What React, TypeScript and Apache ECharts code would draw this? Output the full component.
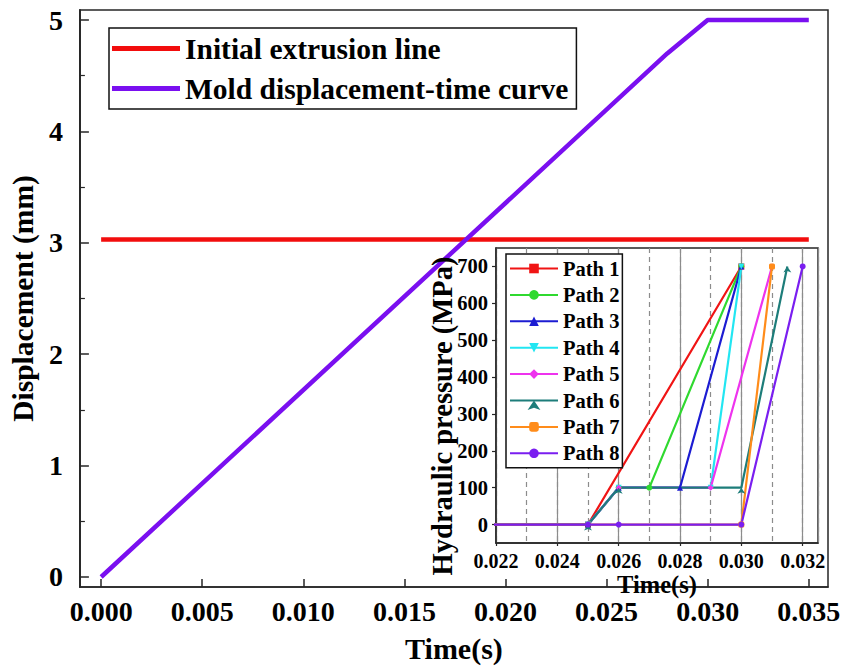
import { useEffect, useRef } from "react";
import * as echarts from "echarts";

// Main panel: displacement vs time
const extrusionTime = [0, 0.035];
const extrusionDisp = [3.03, 3.03];
const moldTime = [0, 0.028, 0.03, 0.035];
const moldDisp = [0, 4.7, 5.0, 5.0];

const mainXTicks = [0, 0.005, 0.01, 0.015, 0.02, 0.025, 0.03, 0.035];
const mainYTicks = [0, 1, 2, 3, 4, 5];
const mainYMinorTicks = [0.5, 1.5, 2.5, 3.5, 4.5];

// Inset: hydraulic pressure loading paths, [time (s), pressure (MPa)]
const path1 = [[0, 0], [0.025, 0], [0.03, 700]];
const path2 = [[0, 0], [0.025, 0], [0.026, 100], [0.027, 100], [0.03, 700]];
const path3 = [[0, 0], [0.025, 0], [0.026, 100], [0.028, 100], [0.03, 700]];
const path4 = [[0, 0], [0.025, 0], [0.026, 100], [0.029, 100], [0.03, 700]];
const path5 = [[0, 0], [0.025, 0], [0.026, 100], [0.029, 100], [0.031, 700]];
const path6 = [[0, 0], [0.025, 0], [0.026, 100], [0.03, 100], [0.0315, 700]];
const path7 = [[0, 0], [0.03, 0], [0.031, 700]];
const path8 = [[0, 0], [0.025, 0], [0.026, 0], [0.03, 0], [0.032, 700]];

const pathNames = ["Path 1", "Path 2", "Path 3", "Path 4", "Path 5", "Path 6", "Path 7", "Path 8"];
const pathData = [path1, path2, path3, path4, path5, path6, path7, path8];
const pathColors = ["#f01414", "#2fd92f", "#1c1cd2", "#22e6f2", "#ee33ee", "#1d7d7a", "#ff8c1a", "#7a1ef0"];
const pathSymbols = ["rect", "circle", "triangle", "triangle", "diamond", "arrow", "roundRect", "circle"];
const pathSymbolRotate = [0, 0, 0, 180, 0, 0, 0, 0];

const insetXTicks = [0.022, 0.024, 0.026, 0.028, 0.03, 0.032];
const insetYTicks = [0, 100, 200, 300, 400, 500, 600, 700];
const insetXMin = 0.022;
const insetXMax = 0.0325;
const insetSolidStep = 0.002;
const insetDashedStep = 0.001;

const FONT = "Liberation Serif";
const AXIS_COLOR = "#262626";
const GRID_COLOR = "#8c8c8c";

export default function App() {
  const ref = useRef<HTMLDivElement>(null);

  useEffect(() => {
    document.body.style.margin = "0";
    const chart = echarts.init(ref.current!, undefined, { renderer: "svg" });

    const pathSeries = pathNames.map((name, i) => ({
      name,
      type: "line",
      xAxisIndex: 1,
      yAxisIndex: 2,
      data: pathData[i],
      symbol: pathSymbols[i],
      symbolRotate: pathSymbolRotate[i],
      symbolSize: 6,
      showSymbol: true,
      color: pathColors[i],
      lineStyle: { width: 2.2, color: pathColors[i] },
      itemStyle: { color: pathColors[i] },
      z: 3,
    }));

    // hidden axes of the inset that only carry its vertical reference lines
    const insetGridAxis = (step: number, type: "solid" | "dashed") => ({
      type: "value",
      gridIndex: 1,
      position: "top",
      min: insetXMin,
      max: insetXMax,
      interval: step,
      axisLine: { show: false, onZero: false },
      axisTick: { show: false },
      axisLabel: { show: false },
      splitLine: {
        show: true,
        lineStyle: { color: GRID_COLOR, width: 1.2, type: type === "dashed" ? [5, 4] : "solid" },
      },
    });

    chart.setOption({
      animation: false,
      backgroundColor: "#ffffff",
      textStyle: { fontFamily: FONT, fontWeight: "bold", color: "#000" },
      grid: [
        {
          left: 74,
          top: 10,
          width: 754,
          height: 581,
          show: true,
          borderColor: AXIS_COLOR,
          borderWidth: 1.5,
        },
        {
          left: 496,
          top: 248,
          width: 322,
          height: 295,
          show: true,
          borderColor: AXIS_COLOR,
          borderWidth: 1.5,
        },
      ],
      legend: [
        {
          data: [
            { name: "Initial extrusion line", icon: "rect" },
            { name: "Mold displacement-time curve", icon: "rect" },
          ],
          orient: "vertical",
          left: 109,
          top: 28,
          itemWidth: 68,
          itemHeight: 5,
          itemGap: 9,
          padding: [5, 8, 5, 3],
          borderColor: "#111",
          borderWidth: 1.5,
          backgroundColor: "#fff",
          textStyle: { fontFamily: FONT, fontWeight: "bold", fontSize: 29.5, color: "#000", lineHeight: 31 },
        },
        {
          data: pathNames,
          orient: "vertical",
          left: 506,
          top: 254,
          itemWidth: 48,
          itemHeight: 12,
          itemGap: 5.4,
          padding: [4, 3, 4, 3],
          borderColor: "#111",
          borderWidth: 1.5,
          backgroundColor: "#fff",
          z: 10,
          textStyle: { fontFamily: FONT, fontWeight: "bold", fontSize: 20.5, color: "#000" },
        },
      ],
      xAxis: [
        {
          type: "value",
          gridIndex: 0,
          min: -0.00105,
          max: 0.03595,
          name: "Time(s)",
          nameLocation: "middle",
          nameGap: 46,
          nameTextStyle: { fontFamily: FONT, fontWeight: "bold", fontSize: 30, color: "#000" },
          axisLine: { show: true, onZero: false, lineStyle: { color: AXIS_COLOR, width: 1.5 } },
          axisTick: { show: true, inside: true, length: 8, customValues: mainXTicks, lineStyle: { color: AXIS_COLOR, width: 1.5 } },
          axisLabel: {
            customValues: mainXTicks,
            formatter: (v: number) => v.toFixed(3),
            margin: 10,
            fontFamily: FONT,
            fontWeight: "bold",
            fontSize: 28,
            color: "#000",
          },
          splitLine: { show: false },
        },
        {
          type: "value",
          gridIndex: 1,
          min: insetXMin,
          max: insetXMax,
          name: "Time(s)",
          nameLocation: "middle",
          nameGap: 17,
          nameTextStyle: { fontFamily: FONT, fontWeight: "bold", fontSize: 24.5, color: "#000" },
          axisLine: { show: true, onZero: false, lineStyle: { color: AXIS_COLOR, width: 1.5 } },
          axisTick: { show: true, inside: false, length: 3, customValues: insetXTicks, lineStyle: { color: AXIS_COLOR, width: 1.2 } },
          axisLabel: {
            customValues: insetXTicks,
            formatter: (v: number) => v.toFixed(3),
            margin: 8,
            fontFamily: FONT,
            fontWeight: "bold",
            fontSize: 20,
            color: "#000",
          },
          splitLine: { show: false },
        },
        insetGridAxis(insetDashedStep, "dashed"),
        insetGridAxis(insetSolidStep, "solid"),
      ],
      yAxis: [
        {
          type: "value",
          gridIndex: 0,
          min: -0.09,
          max: 5.09,
          name: "Displacement (mm)",
          nameLocation: "middle",
          nameGap: 31,
          nameTextStyle: { fontFamily: FONT, fontWeight: "bold", fontSize: 29.5, color: "#000" },
          axisLine: { show: true, onZero: false, lineStyle: { color: AXIS_COLOR, width: 1.5 } },
          axisTick: { show: true, inside: true, length: 9, customValues: mainYTicks, lineStyle: { color: AXIS_COLOR, width: 1.5 } },
          axisLabel: {
            customValues: mainYTicks,
            formatter: (v: number) => String(v),
            margin: 17,
            fontFamily: FONT,
            fontWeight: "bold",
            fontSize: 28,
            color: "#000",
          },
          splitLine: { show: false },
        },
        {
          // half-unit minor ticks on the main displacement axis
          type: "value",
          gridIndex: 0,
          position: "left",
          offset: 0,
          min: -0.09,
          max: 5.09,
          axisLine: { show: true, onZero: false, lineStyle: { color: AXIS_COLOR, width: 1.5 } },
          axisTick: { show: true, inside: true, length: 5, customValues: mainYMinorTicks, lineStyle: { color: AXIS_COLOR, width: 1.2 } },
          axisLabel: { show: false },
          splitLine: { show: false },
        },
        {
          type: "value",
          gridIndex: 1,
          min: -50,
          max: 750,
          axisLine: { show: true, onZero: false, lineStyle: { color: AXIS_COLOR, width: 1.5 } },
          axisTick: { show: true, inside: false, length: 4, customValues: insetYTicks, lineStyle: { color: AXIS_COLOR, width: 1.2 } },
          axisLabel: {
            customValues: insetYTicks,
            formatter: (v: number) => String(v),
            margin: 8,
            fontFamily: FONT,
            fontWeight: "bold",
            fontSize: 20.5,
            color: "#000",
          },
          splitLine: { show: false },
        },
      ],
      graphic: [
        {
          type: "text",
          x: 442,
          y: 416,
          rotation: Math.PI / 2,
          z: 20,
          style: {
            text: "Hydraulic pressure (MPa)",
            fontFamily: FONT,
            fontWeight: "bold",
            fontSize: 28.5,
            fill: "#000",
            textAlign: "center",
            textVerticalAlign: "middle",
          },
        },
      ],
      series: [
        {
          name: "Initial extrusion line",
          type: "line",
          xAxisIndex: 0,
          yAxisIndex: 0,
          data: extrusionTime.map((t, i) => [t, extrusionDisp[i]]),
          symbol: "none",
          color: "#f20d0d",
          lineStyle: { width: 4.5, color: "#f20d0d" },
          z: 2,
        },
        {
          name: "Mold displacement-time curve",
          type: "line",
          xAxisIndex: 0,
          yAxisIndex: 0,
          data: moldTime.map((t, i) => [t, moldDisp[i]]),
          symbol: "none",
          color: "#7a0ff0",
          lineStyle: { width: 4.5, color: "#7a0ff0" },
          z: 2,
        },
        ...pathSeries,
      ],
    });

    return () => chart.dispose();
  }, []);

  return <div ref={ref} style={{ width: 845, height: 668 }} />;
}
